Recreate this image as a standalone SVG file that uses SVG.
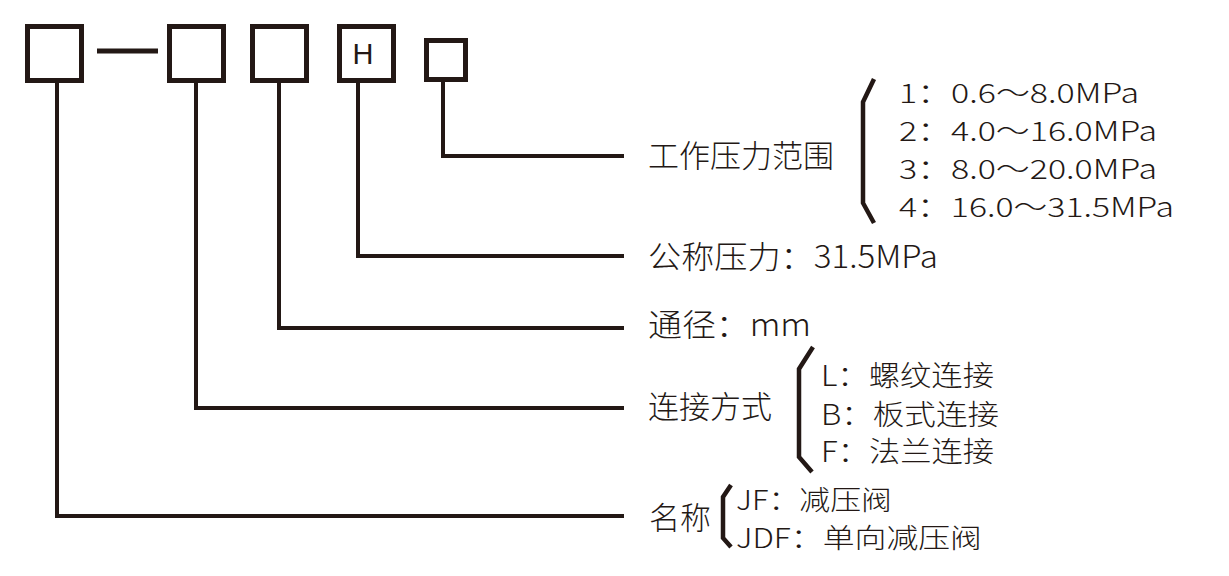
<svg xmlns="http://www.w3.org/2000/svg" width="1229" height="576" viewBox="0 0 1229 576">
<style>
.box{fill:#fff;stroke:#231815;stroke-width:5}
.ln{fill:none;stroke:#231815;stroke-width:4;stroke-linecap:butt}
.br{fill:none;stroke:#231815;stroke-width:4.5;stroke-linejoin:miter}
text{font-family:"Noto Sans CJK SC","Noto Sans",sans-serif;font-size:31px;font-weight:300;fill:#231815;dominant-baseline:central}
.lst{font-size:27px}
.sub{font-size:28px}
.nm{font-size:27px}
</style>
<rect width="1229" height="576" fill="#fff"/>
<g id="box1"><rect class="box" x="27.5" y="26.5" width="54" height="54"/></g>
<g id="dash"><line class="ln" x1="97" y1="51" x2="158" y2="51" style="stroke-width:5"/></g>
<g id="box2"><rect class="box" x="169.5" y="26.5" width="54" height="54"/></g>
<g id="box3"><rect class="box" x="252.5" y="26.5" width="54" height="54"/></g>
<g id="boxH"><rect class="box" x="339.5" y="26.5" width="54" height="54"/><text x="363" y="54" text-anchor="middle" style="font-family:'Liberation Sans',sans-serif;font-size:29px;font-weight:400">H</text></g>
<g id="box5"><rect class="box" x="426.5" y="40.5" width="39" height="39"/></g>
<g id="connectors">
<polyline class="ln" points="443,82 443,156 624,156"/>
<polyline class="ln" points="358,82 358,256 624,256"/>
<polyline class="ln" points="279,82 279,328 624,328"/>
<polyline class="ln" points="196,82 196,408 624,408"/>
<polyline class="ln" points="57,82 57,516 624,516"/>
</g>
<g id="pressure-range">
<text x="648" y="153">工作压力范围</text>
<path class="br" d="M874,79 L863,102 L863,203 L874,223"/>
<text class="lst" x="899" y="91" textLength="240" lengthAdjust="spacingAndGlyphs">1：0.6～8.0MPa</text>
<text class="lst" x="899" y="129" textLength="258" lengthAdjust="spacingAndGlyphs">2：4.0～16.0MPa</text>
<text class="lst" x="899" y="167" textLength="258" lengthAdjust="spacingAndGlyphs">3：8.0～20.0MPa</text>
<text class="lst" x="899" y="205" textLength="275" lengthAdjust="spacingAndGlyphs">4：16.0～31.5MPa</text>
</g>
<g id="nominal"><text x="648" y="254" textLength="290" lengthAdjust="spacingAndGlyphs">公称压力：31.5MPa</text></g>
<g id="bore"><text x="648" y="322" textLength="163" lengthAdjust="spacingAndGlyphs">通径：mm</text></g>
<g id="connection">
<text x="648" y="404">连接方式</text>
<path class="br" d="M813,347 L799,369 L799,457 L812,472"/>
<text class="sub" x="821" y="374" textLength="173" lengthAdjust="spacingAndGlyphs">L：螺纹连接</text>
<text class="sub" x="821" y="413" textLength="178" lengthAdjust="spacingAndGlyphs">B：板式连接</text>
<text class="sub" x="821" y="450" textLength="173" lengthAdjust="spacingAndGlyphs">F：法兰连接</text>
</g>
<g id="name">
<text x="649" y="515">名称</text>
<path class="br" d="M731,485 L723,497 L723,538 L731,547"/>
<text class="nm" x="736" y="498" textLength="156" lengthAdjust="spacingAndGlyphs">JF：减压阀</text>
<text class="nm" x="736" y="536" textLength="246" lengthAdjust="spacingAndGlyphs">JDF：单向减压阀</text>
</g>
</svg>
